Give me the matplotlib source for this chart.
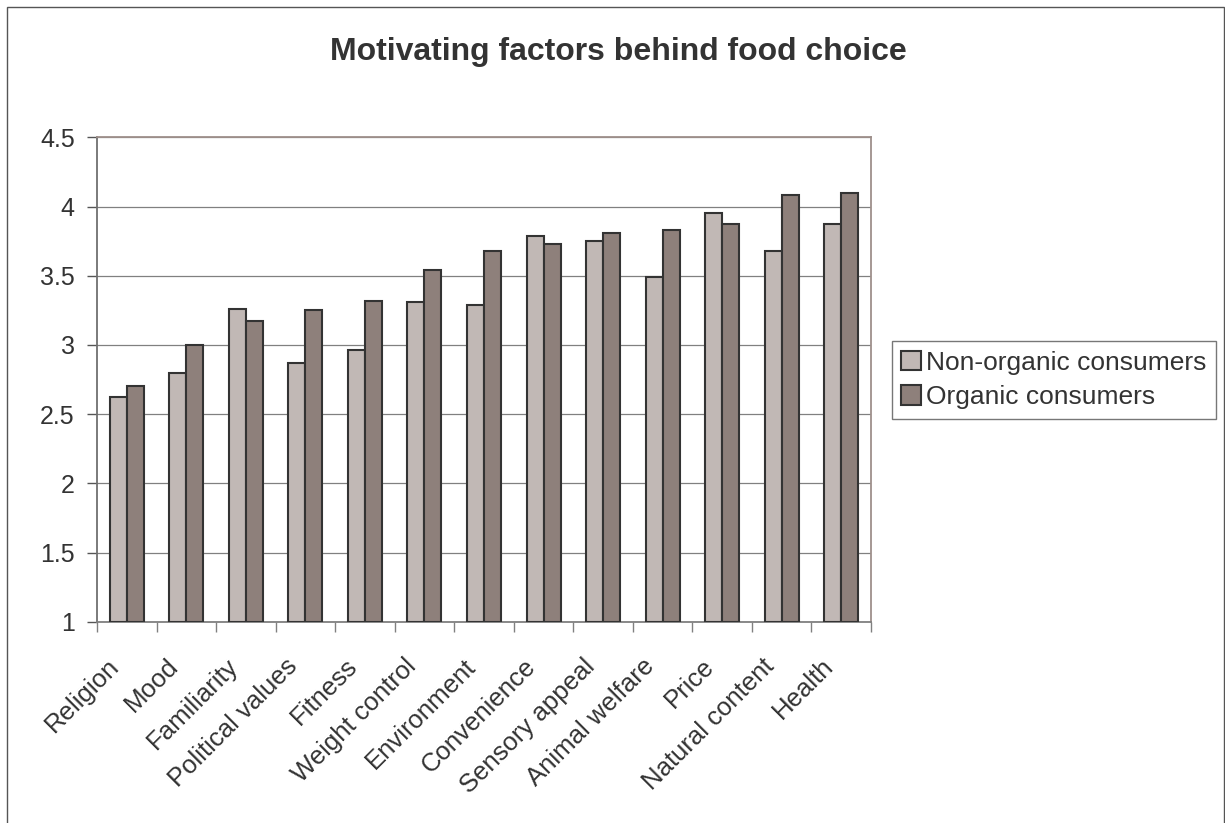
import matplotlib
matplotlib.use("Agg")
import matplotlib.pyplot as plt
from matplotlib.patches import Rectangle
import numpy as np

plt.rcParams["font.family"] = ["Liberation Sans", "DejaVu Sans"]

factores = ["Religion", "Mood", "Familiarity", "Political values", "Fitness",
            "Weight control", "Environment", "Convenience", "Sensory appeal",
            "Animal welfare", "Price", "Natural content", "Health"]
no_organicos = [2.62, 2.80, 3.26, 2.87, 2.96, 3.31, 3.29, 3.79, 3.75, 3.49, 3.95, 3.68, 3.87]
organicos = [2.70, 3.00, 3.17, 3.25, 3.32, 3.54, 3.68, 3.73, 3.81, 3.83, 3.87, 4.08, 4.10]
ticks_y = [1, 1.5, 2, 2.5, 3, 3.5, 4, 4.5]

CLARO = "#C1B8B5"
OSCURO = "#8E807B"
BORDE = "#333333"
TEXTO = "#333333"

fig = plt.figure(figsize=(12.25, 8.23), dpi=100)
ax = fig.add_axes([97 / 1225, 1 - 621.7 / 823, (871 - 97) / 1225, (621.7 - 137.3) / 823])

# marco exterior del gráfico (estilo Excel)
fig.patches.append(Rectangle((7 / 1225, -0.05), (1224 - 7) / 1225, 1.05 - 7 / 823,
                             transform=fig.transFigure, fill=False,
                             edgecolor="#555555", lw=1.0))

x = np.arange(len(factores))
ancho = 1 / 3.5
ax.bar(x - ancho / 2, [v - 1 for v in no_organicos], ancho, bottom=1, color=CLARO,
       edgecolor=BORDE, linewidth=1.5, label="Non-organic consumers", zorder=3)
ax.bar(x + ancho / 2, [v - 1 for v in organicos], ancho, bottom=1, color=OSCURO,
       edgecolor=BORDE, linewidth=1.5, label="Organic consumers", zorder=3)

ax.set_ylim(1, 4.5)
ax.set_xlim(-0.5, len(factores) - 0.5)
ax.set_yticks(ticks_y)
ax.set_yticklabels([f"{t:g}" for t in ticks_y], fontsize=18, color=TEXTO)
ax.grid(axis="y", color="#808080", lw=0.9, zorder=0)
ax.set_axisbelow(True)

ax.set_xticks(np.arange(-0.5, len(factores), 1.0))
ax.set_xticklabels([])
ax.tick_params(axis="x", length=7, color="#808080", width=1)
ax.tick_params(axis="y", length=7, color="#555555", width=1, pad=9)
for i, nombre in enumerate(factores):
    ax.annotate(nombre, xy=(i, 0), xycoords=ax.get_xaxis_transform(),
                xytext=(-14.5, -23.5), textcoords="offset points",
                rotation=45, ha="right", va="top", rotation_mode="anchor",
                fontsize=18.5, color=TEXTO)

ax.spines["left"].set_color("#707070")
ax.spines["bottom"].set_color("#808080")
ax.spines["top"].set_color("#9E908B")
ax.spines["right"].set_color("#9E908B")
for lado in ax.spines.values():
    lado.set_linewidth(1.3)

fig.text(0.505, 1 - 52 / 823, "Motivating factors behind food choice", ha="center",
         va="center", fontsize=23, fontweight="bold", color=TEXTO)

leg = fig.legend(loc="center left", bbox_to_anchor=(892 / 1225, 1 - 380 / 823),
                 fontsize=19, frameon=True, fancybox=False, handlelength=0.75,
                 handleheight=0.75, handletextpad=0.2, borderpad=0.35,
                 labelspacing=0.4, borderaxespad=0)
leg.get_frame().set_edgecolor("#555555")
leg.get_frame().set_linewidth(1.0)
for t in leg.get_texts():
    t.set_color(TEXTO)

fig.savefig("out.png", dpi=100, facecolor="white")
